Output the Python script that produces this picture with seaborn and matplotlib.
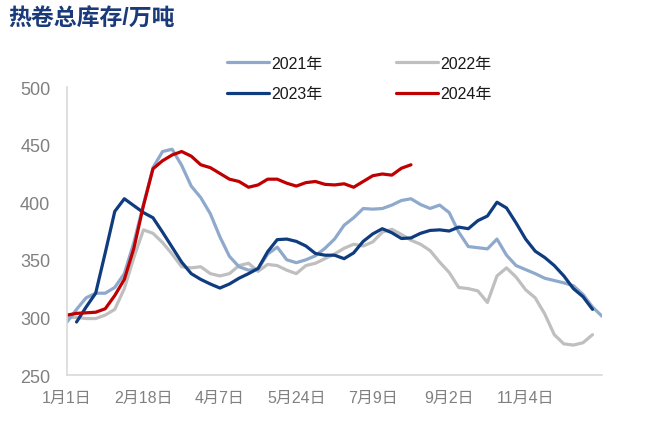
import numpy as np
import pandas as pd
import matplotlib
matplotlib.use("Agg")
import matplotlib.pyplot as plt
import seaborn as sns
from matplotlib.ticker import FixedLocator

nan = np.nan

# category labels shown on the x axis (every 8th category)
tick_labels = ["1月1日", "2月18日", "4月7日", "5月24日", "7月9日", "9月2日", "11月4日"]
label_every = 8
n_categories = 57

# hot-rolled coil total inventory, 10k tonnes, one value per category
inv_2021 = [296, 307, 317, 321, 321, 326, 338, 365, 398, 430,
            444, 446, 432, 414, 404, 390, 370, 353, 344, 341,
            342, 355, 361, 350, 347.5, 350, 353.5, 360, 368, 380,
            386.5, 394.5, 394, 394.5, 397.5, 401.5, 403, 398, 394.6, 397.5,
            391, 374, 361.5, 360.5, 359.5, 368, 354, 345, 341.5, 338,
            334, 332, 330, 327.5, 320, 309, 301]
inv_2022 = [300, 300, 299, 299, 302, 307, 325, 352, 376, 373,
            365, 355, 344, 343, 344, 338, 336, 338, 345, 347,
            340, 346, 345, 341, 338, 345, 347, 351, 355, 360,
            363.5, 362, 365.5, 374, 376.5, 372, 367, 363.5, 358, 348,
            339, 326, 325, 323, 313, 336, 343, 335, 324, 317,
            303, 285, 277, 276, 278, 285, nan]
inv_2023 = [nan, 296, 309, 321, 356, 392, 403, 397, 391, 386.5,
            374, 361, 348, 338, 333, 329, 325.5, 329, 334, 338,
            342.5, 357, 367.5, 368, 366, 362, 355.5, 354, 354, 351,
            356, 366, 372.5, 377, 373.5, 368.5, 369, 373, 375.5, 376,
            375, 378.4, 377, 384, 388, 400, 395, 382, 368, 357.5,
            352, 345, 336, 325, 318, 307, nan]
inv_2024 = [302, 303.5, 304, 304.5, 307.5, 319, 333, 360, 397, 429,
            436, 441, 444, 440, 432.5, 430, 425, 420, 418, 413,
            415, 420, 420, 416.5, 414, 417, 418, 415.5, 415, 416,
            413, 418, 423, 424.5, 423.5, 429.5, 432.5]

series_names = ["2021年", "2022年", "2023年", "2024年"]
colors = {
    "2021年": "#8EA9CB",
    "2022年": "#BFBFBF",
    "2023年": "#0F3C7E",
    "2024年": "#C00000",
}


def build_frame():
    rows = []
    for name, vals in zip(series_names, [inv_2021, inv_2022, inv_2023, inv_2024]):
        for i, v in enumerate(vals):
            rows.append({"idx": i, "value": v, "year": name})
    df = pd.DataFrame(rows)
    return df.dropna()


def plot_inventory(df):
    fig = plt.figure(figsize=(6.46, 4.39), dpi=100)
    ax = fig.add_axes([0.1037, 0.1435, 0.8283, 0.656])

    # draw the older years first so 2023/2024 sit on top
    handles = {}
    for name in ["2022年", "2021年", "2023年", "2024年"]:
        sub = df[df["year"] == name]
        sns.lineplot(data=sub, x="idx", y="value", color=colors[name],
                     linewidth=2.3, ax=ax, label=name, legend=False)
        handles[name] = ax.get_lines()[-1]

    ax.set_xlim(0, n_categories - 1)
    ax.set_ylim(250, 500)
    ax.set_yticks(range(250, 501, 50))
    ax.set_xlabel("")
    ax.set_ylabel("")

    ax.xaxis.set_major_locator(FixedLocator(range(0, len(tick_labels) * label_every, label_every)))
    ax.set_xticklabels(tick_labels)
    ax.xaxis.set_minor_locator(FixedLocator(range(0, n_categories, 3)))

    for s in ["top", "right"]:
        ax.spines[s].set_visible(False)
    for s in ["left", "bottom"]:
        ax.spines[s].set_color("#D9D9D9")
        ax.spines[s].set_linewidth(1.2)

    ax.tick_params(axis="x", which="major", length=0, pad=11,
                   labelsize=11.5, labelcolor="#808080")
    ax.tick_params(axis="x", which="minor", length=4, width=1, color="#D9D9D9")
    ax.tick_params(axis="y", length=4, width=1, color="#D9D9D9", pad=8,
                   labelsize=13, labelcolor="#808080")
    ax.grid(False)

    order = ["2021年", "2023年", "2022年", "2024年"]
    leg = fig.legend([handles[n] for n in order], order, ncol=2,
                     loc="upper left", bbox_to_anchor=(0.352, 0.870),
                     frameon=False, fontsize=11.5, handlelength=2.6,
                     handletextpad=0.15, columnspacing=4.6, labelspacing=0.95,
                     borderpad=0, borderaxespad=0)
    for t in leg.get_texts():
        t.set_color("#1A1A1A")

    fig.text(0.012, 0.958, "热卷总库存/万吨", fontsize=16.5, fontweight="bold",
             color="#1B3A7A", ha="left", va="center")

    fig.savefig("out.png", dpi=100)


if __name__ == "__main__":
    sns.set_theme(style="white")
    plt.rcParams["font.family"] = ["Liberation Sans", "Noto Sans CJK SC", "DejaVu Sans"]
    plt.rcParams["axes.unicode_minus"] = False

    df = build_frame()
    plot_inventory(df)
